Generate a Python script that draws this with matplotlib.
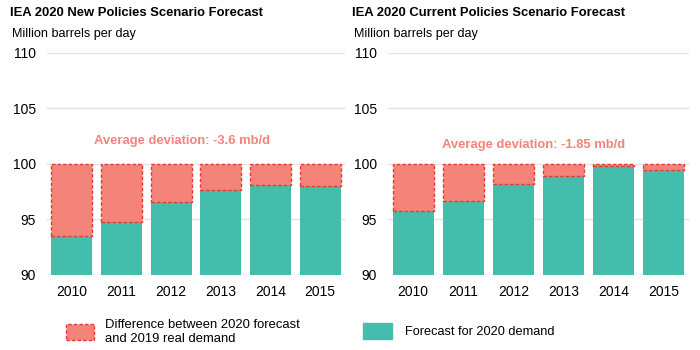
import matplotlib
matplotlib.use("Agg")
import matplotlib.pyplot as plt
from matplotlib.patches import Patch

plt.rcParams['font.family'] = ['Liberation Sans', 'DejaVu Sans']

years = ["2010", "2011", "2012", "2013", "2014", "2015"]
forecast_new = [93.55, 94.73, 96.57, 97.62, 98.10, 97.98]
forecast_current = [95.75, 96.69, 98.19, 98.88, 99.78, 99.42]
actual_2019 = 100.0
titles = ["IEA 2020 New Policies Scenario Forecast", "IEA 2020 Current Policies Scenario Forecast"]
notes = ["Average deviation: -3.6 mb/d", "Average deviation: -1.85 mb/d"]
ylabel = "Million barrels per day"
yticks = [90, 95, 100, 105, 110]

teal = "#44BDAC"
salmon = "#F4847A"
edge = "#E8382F"

W, H = 700, 350
fig = plt.figure(figsize=(7, 3.5), dpi=100)

def fx(px):
    return px / W

def fy(py):
    return 1 - py / H

panels = [
    (47, 345, forecast_new, 0, 10, 182, 141),
    (388, 689, forecast_current, 1, 352, 534, 145),
]

for x0, x1, vals, i, tx, nx, ny in panels:
    ax = fig.add_axes([fx(x0), fy(275), fx(x1 - x0), fy(53) - fy(275)])
    xs = list(range(len(years)))
    ax.bar(xs, vals, width=0.82, color=teal, bottom=0, zorder=2)
    diffs = [actual_2019 - v for v in vals]
    ax.bar(xs, diffs, bottom=vals, width=0.82, color=salmon, edgecolor=edge,
           linestyle=(0, (2.5, 1.5)), linewidth=1.0, zorder=3)
    ax.set_ylim(90, 110)
    ax.set_xlim(-0.5, 5.5)
    ax.set_yticks(yticks)
    ax.set_xticks(xs)
    ax.set_xticklabels(years)
    ax.tick_params(axis='both', length=0, labelsize=10, colors="#000000")
    ax.tick_params(axis='x', pad=7)
    ax.tick_params(axis='y', pad=8)
    ax.grid(axis='y', color="#E3E3E3", linewidth=1.0, zorder=0)
    ax.set_axisbelow(True)
    for s in ax.spines.values():
        s.set_visible(False)
    fig.text(fx(tx), fy(13), titles[i], fontsize=9.4, fontweight='bold', va='center', ha='left')
    fig.text(fx(tx + 2), fy(34), ylabel, fontsize=9.1, va='center', ha='left')
    fig.text(fx(nx), fy(ny), notes[i], fontsize=9.35, fontweight='bold', color=salmon,
             va='center', ha='center')

h1 = Patch(facecolor=salmon, edgecolor=edge, linestyle=(0, (2.5, 1.5)), linewidth=1.0)
h2 = Patch(facecolor=teal, edgecolor=teal)
fig.legend([h1], ["Difference between 2020 forecast\nand 2019 real demand"],
           loc='center left', bbox_to_anchor=(fx(54), fy(332)), frameon=False,
           fontsize=9.4, handlelength=2.2, handleheight=1.5, handletextpad=0.8)
fig.legend([h2], ["Forecast for 2020 demand"],
           loc='center left', bbox_to_anchor=(fx(351), fy(331)), frameon=False,
           fontsize=9.2, handlelength=2.3, handleheight=1.6, handletextpad=1.0)

fig.savefig("out.png", dpi=100)
